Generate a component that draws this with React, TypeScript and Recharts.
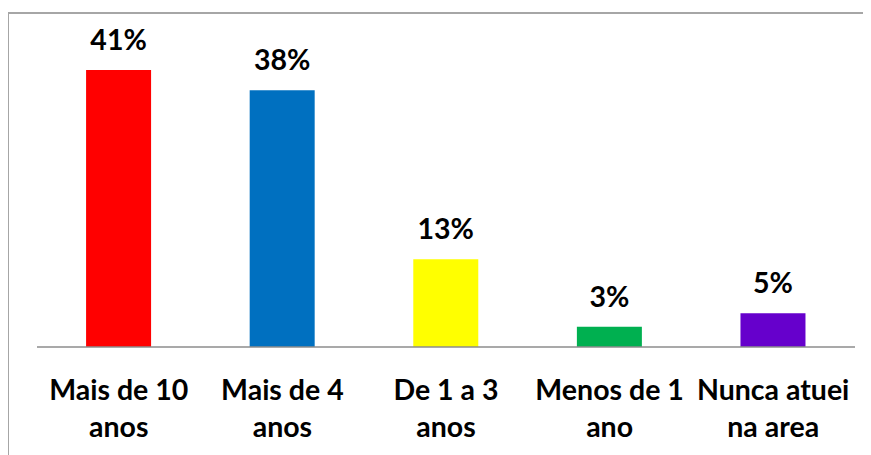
import { Bar, BarChart, Cell, LabelList, XAxis, YAxis } from "recharts";

const categories = [
  "Mais de 10 anos",
  "Mais de 4 anos",
  "De 1 a 3 anos",
  "Menos de 1 ano",
  "Nunca atuei na area",
];
const tickLines = [
  ["Mais de 10", "anos"],
  ["Mais de 4", "anos"],
  ["De 1 a 3", "anos"],
  ["Menos de 1", "ano"],
  ["Nunca atuei", "na area"],
];
const percentages = [41, 38, 13, 3, 5];
const barColors = ["#ff0000", "#0070c0", "#ffff00", "#00b050", "#6600cc"];

const data = categories.map((name, i) => ({
  name,
  value: percentages[i],
}));

const FONT = "Lato, 'Open Sans', sans-serif";
const FRAME = "#a6a6a6";

function CategoryTick({ x, y, index }: any) {
  const lines = tickLines[index] ?? [];
  return (
    <g>
      {lines.map((line, i) => (
        <text
          key={i}
          x={x}
          y={y + 53 + i * 37}
          textAnchor="middle"
          fontFamily={FONT}
          fontWeight={700}
          fontSize={28.5}
          fill="#000"
        >
          {line}
        </text>
      ))}
    </g>
  );
}

export default function App() {
  return (
    <div style={{ position: "relative", width: 863, height: 447 }}>
      {/* chart frame: only the top and left edges show in the crop */}
      <div style={{ position: "absolute", top: 4, left: -1, width: 864, height: 2, background: FRAME }} />
      <div style={{ position: "absolute", top: 4, left: -1, width: 2, height: 443, background: FRAME }} />
      <div style={{ position: "absolute", top: 0, left: 0 }}>
        <BarChart
          width={863}
          height={447}
          data={data}
          margin={{ top: 35, right: 16, bottom: 8, left: 29 }}
          barCategoryGap="30%"
        >
          <XAxis
            dataKey="name"
            interval={0}
            tickLine={false}
            tickSize={0}
            tickMargin={0}
            height={100}
            axisLine={{ stroke: "#8c8c8c", strokeWidth: 1.5 }}
            tick={<CategoryTick />}
          />
          <YAxis hide domain={[0, 45]} />
          <Bar dataKey="value" isAnimationActive={false}>
            {data.map((d, i) => (
              <Cell key={d.name} fill={barColors[i]} />
            ))}
            <LabelList
              dataKey="value"
              position="top"
              offset={20}
              formatter={(v: any) => `${v}%`}
              style={{
                fontFamily: FONT,
                fontWeight: 700,
                fontSize: 28.5,
                fill: "#000",
              }}
            />
          </Bar>
        </BarChart>
      </div>
    </div>
  );
}
